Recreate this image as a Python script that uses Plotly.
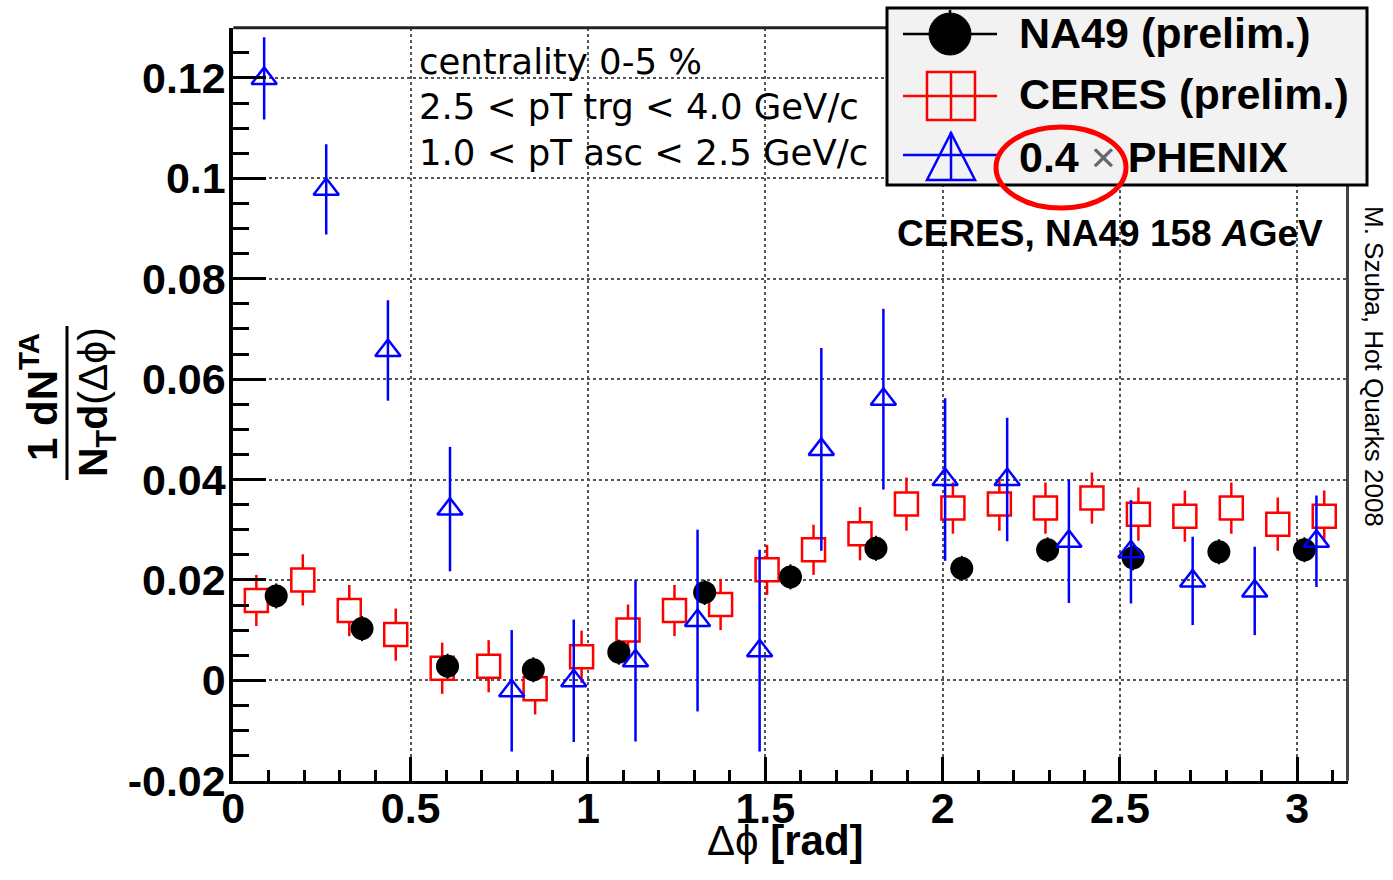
import plotly.graph_objects as go

W, H = 1393, 880

# ---------------- data ----------------
na49_x = [0.121, 0.363, 0.604, 0.846, 1.087, 1.329, 1.571, 1.812, 2.054, 2.296, 2.537, 2.779, 3.020]
na49_y = [0.0168, 0.0103, 0.0028, 0.0021, 0.0056, 0.0175, 0.0206, 0.0263, 0.0223, 0.0260, 0.0244, 0.0256, 0.0260]
na49_err = [0.0025] * 13

ceres_x = [0.065, 0.196, 0.327, 0.458, 0.589, 0.720, 0.851, 0.982, 1.113, 1.244, 1.374, 1.505,
           1.636, 1.767, 1.898, 2.029, 2.160, 2.290, 2.421, 2.552, 2.683, 2.814, 2.945, 3.076]
ceres_y = [0.0159, 0.0200, 0.0139, 0.0091, 0.0024, 0.0028, -0.0017, 0.0047, 0.0100, 0.0139, 0.0151, 0.0220,
           0.0260, 0.0292, 0.0351, 0.0343, 0.0351, 0.0343, 0.0363, 0.0331, 0.0327, 0.0343, 0.0311, 0.0327]
ceres_err = [0.0051, 0.0051, 0.0051, 0.0052, 0.0051, 0.0052, 0.0051, 0.0052, 0.0051, 0.0051, 0.0051, 0.0050,
             0.0050, 0.0053, 0.0053, 0.0051, 0.0053, 0.0051, 0.0051, 0.0053, 0.0051, 0.0051, 0.0053, 0.0051]

phenix_x = [0.087, 0.262, 0.436, 0.611, 0.785, 0.960, 1.134, 1.309, 1.484,
            1.658, 1.833, 2.007, 2.182, 2.356, 2.531, 2.705, 2.880, 3.054]
phenix_y = [0.1199, 0.0978, 0.0657, 0.0341, -0.0021, -0.0001, 0.0039, 0.0119, 0.0059,
            0.0460, 0.0560, 0.0400, 0.0400, 0.0277, 0.0256, 0.0198, 0.0178, 0.0277]
phenix_err = [0.0082, 0.0090, 0.0100, 0.0124, 0.0121, 0.0122, 0.0161, 0.0181, 0.0201,
              0.0202, 0.0180, 0.0162, 0.0123, 0.0123, 0.0103, 0.0088, 0.0088, 0.0091]

x_range = [0, 3.14159]
y_range = [-0.02, 0.13]
y_tickvals = [-0.02, 0, 0.02, 0.04, 0.06, 0.08, 0.10, 0.12]
y_ticktext = ["-0.02", "0", "0.02", "0.04", "0.06", "0.08", "0.1", "0.12"]

legend_labels = ["NA49 (prelim.)", "CERES (prelim.)", "0.4 \u00d7 PHENIX"]

RED = "#ff0000"
BLUE = "#0000ff"
FONT = "Liberation Sans"


def X(px):
    return px / W


def Y(py):
    return 1 - py / H


fig = go.Figure()

fig.add_trace(go.Scatter(
    x=ceres_x, y=ceres_y, mode="markers", showlegend=False,
    error_y=dict(type="data", array=ceres_err, color=RED, thickness=2.5, width=0),
    marker=dict(symbol="square", size=23, color="white", line=dict(color=RED, width=2.5)),
))
fig.add_trace(go.Scatter(
    x=na49_x, y=na49_y, mode="markers", showlegend=False,
    error_y=dict(type="data", array=na49_err, color="black", thickness=2, width=0),
    marker=dict(symbol="circle", size=23, color="black"),
))
fig.add_trace(go.Scatter(
    x=phenix_x, y=phenix_y, mode="markers", showlegend=False,
    error_y=dict(type="data", array=phenix_err, color=BLUE, thickness=2.5, width=0),
    marker=dict(symbol="triangle-up-open", size=22, color=BLUE, line=dict(color=BLUE, width=2.5)),
))

tickfont = dict(family=FONT, size=43, color="black", weight="bold")

fig.update_layout(
    template="none",
    width=W, height=H,
    margin=dict(l=0, r=0, t=0, b=0, pad=0, autoexpand=False),
    paper_bgcolor="white", plot_bgcolor="white",
    showlegend=False,
    xaxis=dict(
        domain=[X(233.3), X(1347.5)], range=x_range, automargin=False,
        tickmode="linear", tick0=0, dtick=0.5,
        ticks="inside", ticklen=24, tickwidth=2.5, tickcolor="black",
        ticklabelstandoff=-12,
        minor=dict(tickmode="linear", tick0=0, dtick=0.1, ticks="inside", ticklen=11,
                   tickwidth=2.5, tickcolor="black", showgrid=False),
        showgrid=True, gridcolor="#555555", gridwidth=2, griddash="dot",
        showline=True, linecolor="black", linewidth=3, zeroline=False,
        tickfont=tickfont,
    ),
    yaxis=dict(
        domain=[Y(780.7), Y(27.7)], range=y_range, automargin=False,
        tickmode="array", tickvals=y_tickvals, ticktext=y_ticktext,
        ticks="inside", ticklen=33, tickwidth=2.5, tickcolor="black",
        ticklabelstandoff=-5,
        minor=dict(tickmode="linear", tick0=0, dtick=0.005, ticks="inside", ticklen=16,
                   tickwidth=2.5, tickcolor="black", showgrid=False),
        showgrid=True, gridcolor="#555555", gridwidth=2, griddash="dot",
        showline=True, linecolor="black", linewidth=4, zeroline=False,
        tickfont=tickfont,
    ),
)

shapes = []
# top and right frame
shapes.append(dict(type="line", xref="paper", yref="paper", x0=X(233.3), x1=X(1347.5), y0=Y(27.7), y1=Y(27.7),
                   line=dict(color="#222222", width=3), layer="above"))
shapes.append(dict(type="line", xref="paper", yref="paper", x0=X(1347.5), x1=X(1347.5), y0=Y(27.7), y1=Y(780.7),
                   line=dict(color="#444444", width=3), layer="above"))
# legend box
shapes.append(dict(type="rect", xref="paper", yref="paper", x0=X(887), x1=X(1367), y0=Y(185), y1=Y(8),
                   fillcolor="#f2f2f2", line=dict(color="black", width=3), layer="above"))
# legend row 1 (NA49)
shapes.append(dict(type="line", xref="paper", yref="paper", x0=X(903), x1=X(997), y0=Y(34), y1=Y(34),
                   line=dict(color="black", width=2.5), layer="above"))
shapes.append(dict(type="line", xref="paper", yref="paper", x0=X(950), x1=X(950), y0=Y(10), y1=Y(20),
                   line=dict(color="black", width=2.5), layer="above"))
shapes.append(dict(type="circle", xref="paper", yref="paper", x0=X(929), x1=X(971), y0=Y(55), y1=Y(13),
                   fillcolor="black", line=dict(color="black", width=1), layer="above"))
# legend row 2 (CERES)
shapes.append(dict(type="line", xref="paper", yref="paper", x0=X(903), x1=X(997), y0=Y(96), y1=Y(96),
                   line=dict(color=RED, width=2.5), layer="above"))
shapes.append(dict(type="rect", xref="paper", yref="paper", x0=X(927), x1=X(975), y0=Y(120), y1=Y(72),
                   line=dict(color=RED, width=2.5), layer="above"))
shapes.append(dict(type="line", xref="paper", yref="paper", x0=X(951), x1=X(951), y0=Y(72), y1=Y(120),
                   line=dict(color=RED, width=2.5), layer="above"))
# legend row 3 (PHENIX)
shapes.append(dict(type="line", xref="paper", yref="paper", x0=X(903), x1=X(997), y0=Y(155), y1=Y(155),
                   line=dict(color=BLUE, width=2.5), layer="above"))
shapes.append(dict(type="path", xref="paper", yref="paper",
                   path=f"M {X(927)} {Y(180)} L {X(975)} {Y(180)} L {X(951)} {Y(133)} Z",
                   line=dict(color=BLUE, width=2.5), layer="above"))
shapes.append(dict(type="line", xref="paper", yref="paper", x0=X(951), x1=X(951), y0=Y(132), y1=Y(180),
                   line=dict(color=BLUE, width=2.5), layer="above"))
# red ellipse
shapes.append(dict(type="circle", xref="paper", yref="paper", x0=X(996), x1=X(1126), y0=Y(208), y1=Y(127),
                   line=dict(color=RED, width=5), layer="above"))
# y-title fraction bar
shapes.append(dict(type="line", xref="paper", yref="paper", x0=X(67), x1=X(67), y0=Y(326), y1=Y(480),
                   line=dict(color="black", width=3), layer="above"))

annotations = []


def ann(text, x, y, size, xanchor="left", angle=0, family=FONT, weight="normal", color="black"):
    annotations.append(dict(text=text, x=X(x), y=Y(y), xref="paper", yref="paper",
                            xanchor=xanchor, yanchor="middle", showarrow=False, textangle=angle,
                            font=dict(family=family, size=size, color=color, weight=weight)))


PHI = "\u03d5"

# legend texts
ann("<b>" + legend_labels[0] + "</b>", 1017, 33, 43)
ann("<b>" + legend_labels[1] + "</b>", 1017, 94, 43)
ann("<b>0.4</b> <span style='color:#666666'>\u00d7</span> <b>PHENIX</b>", 1017, 157, 43)

# info text
ann("centrality 0-5 %", 417, 61, 35.5, family="DejaVu Sans")
ann("2.5 &lt; pT trg &lt; 4.0 GeV/c", 417, 106, 35.5, family="DejaVu Sans")
ann("1.0 &lt; pT asc &lt; 2.5 GeV/c", 417, 152, 35.5, family="DejaVu Sans")

ann("<b>CERES, NA49 158 <i>A</i>GeV</b>", 895, 233, 37)

# credit
ann("M. Szuba, Hot Quarks 2008", 1374, 366, 26, xanchor="center", angle=90)

# axis titles
ann("\u0394" + PHI + " <b>[rad]</b>", 786, 840, 42, xanchor="center")
ann("<b>1 dN<sup>TA</sup></b>", 39, 397, 42, xanchor="center", angle=-90)
ann("<b>N<sub>T</sub>d</b>(\u0394" + PHI + ")", 96, 402, 41, xanchor="center", angle=-90)

fig.update_layout(shapes=shapes, annotations=annotations)

fig.write_html("out.html")
